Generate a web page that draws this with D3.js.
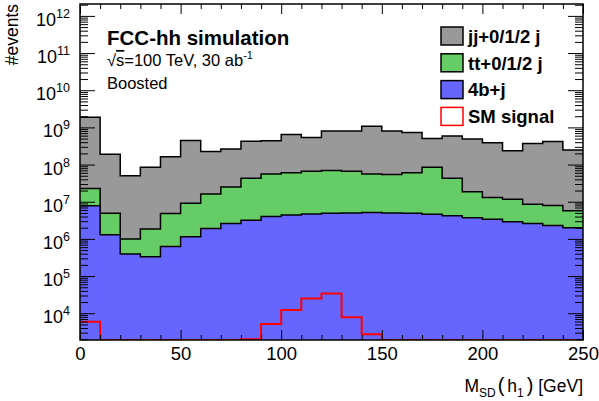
<!DOCTYPE html>
<html>
<head>
<meta charset="utf-8">
<script src="https://cdn.jsdelivr.net/npm/d3@7"></script>
<style>
body { margin: 0; background: #fff; }
text { font-family: "Liberation Sans", Arial, Helvetica, sans-serif; fill: #000; }
</style>
</head>
<body>
<svg id="chart" width="599" height="401"></svg>
<script>
// lower bin edges of M_SD(h1), 10 GeV bins
var binLow = [0, 10, 20, 30, 40, 50, 60, 70, 80, 90, 100, 110, 120, 130, 140, 150, 160, 170, 180, 190, 200, 210, 220, 230, 240];
var binHigh = 250;

// events per bin
var b4j = [7.8e6, 1.3e6, 3.9e5, 3.3e5, 6.2e5, 1.15e6, 1.9e6, 2.6e6, 3.2e6, 4.0e6, 4.4e6, 4.7e6, 4.9e6, 5.0e6, 5.1e6, 5.0e6, 4.9e6, 4.6e6, 4.2e6, 3.7e6, 3.4e6, 2.9e6, 2.6e6, 2.3e6, 2.0e6];
var ttj = [1.5e7, 3.6e6, 6.1e5, 1.53e6, 4.2e6, 7.9e6, 1.43e7, 2.25e7, 3.95e7, 5.2e7, 5.6e7, 6.1e7, 6.4e7, 6.1e7, 5.1e7, 4.9e7, 5.5e7, 8.0e7, 3.85e7, 1.49e7, 9.5e6, 8.8e6, 5.9e6, 5.6e6, 3.75e6];
var jjj = [1.84e9, 1.85e8, 4.9e7, 8.3e7, 1.57e8, 4.38e8, 2.08e8, 2.38e8, 3.84e8, 3.81e8, 5.86e8, 4.71e8, 7.25e8, 7.28e8, 1.02e9, 7.4e8, 6.64e8, 4.16e8, 5.46e8, 4.71e8, 3.76e8, 2.22e8, 3.63e8, 4.09e8, 2.39e8];
var smSignal = [5900, 0, 0, 0, 0, 0, 0, 0, 2000, 5100, 12300, 25000, 34000, 7800, 2700, 0, 0, 0, 0, 0, 0, 0, 0, 0, 0];

var xMajor = [0, 50, 100, 150, 200, 250];
var yExp = [4, 5, 6, 7, 8, 9, 10, 11, 12];

var legendItems = [
  {label: "jj+0/1/2 j", fill: "#999999", stroke: "#000"},
  {label: "tt+0/1/2 j", fill: "#66cc66", stroke: "#000"},
  {label: "4b+j", fill: "#6666ff", stroke: "#000"},
  {label: "SM signal", fill: "#fff", stroke: "#ff0000"}
];

var svg = d3.select("#chart"),
    pl = 80, pr = 583, pt = 4, pb = 340;

var yMin = Math.pow(10, 3.28), yMax = Math.pow(10, 12.32);

var x = d3.scaleLinear().domain([0, 250]).range([pl, pr]);
var y = d3.scaleLog().domain([yMin, yMax]).range([pb, pt]).clamp(true);

svg.append("clipPath").attr("id", "plotclip")
  .append("rect").attr("x", pl).attr("y", pt).attr("width", pr - pl).attr("height", pb - pt);

// stacked backgrounds
var rows = binLow.map(function(b, i) {
  return {x: b, b4: b4j[i], tt: ttj[i], jj: jjj[i]};
});
var stack = d3.stack().keys(["b4", "tt", "jj"])(rows);
var colors = {b4: "#6666ff", tt: "#66cc66", jj: "#999999"};

function stepPoints(layer) {
  var pts = layer.map(function(d) { return {x: d.data.x, v: d[1]}; });
  pts.push({x: binHigh, v: pts[pts.length - 1].v});
  return pts;
}

var area = d3.area()
    .curve(d3.curveStepAfter)
    .x(function(d) { return x(d.x); })
    .y0(pb)
    .y1(function(d) { return y(d.v); });

var line = d3.line()
    .curve(d3.curveStepAfter)
    .x(function(d) { return x(d.x); })
    .y(function(d) { return y(d.v); });

var plot = svg.append("g").attr("clip-path", "url(#plotclip)");

stack.slice().reverse().forEach(function(layer) {
  var pts = stepPoints(layer);
  plot.append("path").attr("d", area(pts)).attr("fill", colors[layer.key]);
  plot.append("path").attr("d", line(pts)).attr("fill", "none")
    .attr("stroke", "#000").attr("stroke-width", 1.5);
});

// signal (not stacked)
var sig = binLow.map(function(b, i) { return {x: b, v: Math.max(smSignal[i], yMin)}; });
sig.push({x: binHigh, v: sig[sig.length - 1].v});
plot.append("path").attr("d", line(sig)).attr("fill", "none")
  .attr("stroke", "#ff0000").attr("stroke-width", 2);

// axes
var xMinor = binLow.concat([binHigh]).filter(function(v) { return xMajor.indexOf(v) < 0; });

function noDomain(g) { g.select(".domain").remove(); }

svg.append("g").attr("transform", "translate(0," + pb + ")")
  .call(d3.axisBottom(x).tickValues(xMajor).tickSizeInner(-10).tickSizeOuter(0).tickPadding(7))
  .call(noDomain)
  .call(function(g) {
    g.selectAll("text").style("font-size", "18.5px").attr("font-family", null);
  });
svg.append("g").attr("transform", "translate(0," + pb + ")")
  .call(d3.axisBottom(x).tickValues(xMinor).tickSizeInner(-5).tickSizeOuter(0).tickFormat(""))
  .call(noDomain);
svg.append("g").attr("transform", "translate(0," + pt + ")")
  .call(d3.axisTop(x).tickValues(xMajor).tickSizeInner(-10).tickSizeOuter(0).tickFormat(""))
  .call(noDomain);
svg.append("g").attr("transform", "translate(0," + pt + ")")
  .call(d3.axisTop(x).tickValues(xMinor).tickSizeInner(-5).tickSizeOuter(0).tickFormat(""))
  .call(noDomain);

var yMajor = yExp.map(function(e) { return Math.pow(10, e); });
var yMinor = [];
[3, 4, 5, 6, 7, 8, 9, 10, 11, 12].forEach(function(e) {
  [2, 3, 4, 5, 6, 7, 8, 9].forEach(function(m) {
    var v = m * Math.pow(10, e);
    if (v > yMin && v < yMax) yMinor.push(v);
  });
});

svg.append("g").attr("transform", "translate(" + pl + ",0)")
  .call(d3.axisLeft(y).tickValues(yMajor).tickSizeInner(-15).tickSizeOuter(0).tickFormat(""))
  .call(noDomain);
svg.append("g").attr("transform", "translate(" + pl + ",0)")
  .call(d3.axisLeft(y).tickValues(yMinor).tickSizeInner(-8).tickSizeOuter(0).tickFormat(""))
  .call(noDomain);
svg.append("g").attr("transform", "translate(" + pr + ",0)")
  .call(d3.axisRight(y).tickValues(yMajor).tickSizeInner(-15).tickSizeOuter(0).tickFormat(""))
  .call(noDomain);
svg.append("g").attr("transform", "translate(" + pr + ",0)")
  .call(d3.axisRight(y).tickValues(yMinor).tickSizeInner(-8).tickSizeOuter(0).tickFormat(""))
  .call(noDomain);

svg.selectAll(".tick line").attr("stroke", "#000").attr("stroke-width", 1);

// y labels as 10^n
var ylab = svg.append("g");
yExp.forEach(function(e) {
  var t = ylab.append("text")
    .attr("x", 70).attr("y", y(Math.pow(10, e)) + 10)
    .attr("text-anchor", "end").style("font-size", "18px");
  t.append("tspan").text("10");
  t.append("tspan").attr("dy", -8).style("font-size", "12.5px").text(e);
});

// frame
svg.append("rect").attr("x", pl).attr("y", pt)
  .attr("width", pr - pl).attr("height", pb - pt)
  .attr("fill", "none").attr("stroke", "#000").attr("stroke-width", 1.5);

// axis titles
var xt = svg.append("text").attr("x", 583).attr("y", 392)
  .attr("text-anchor", "end").style("font-size", "17.5px");
xt.append("tspan").text("M");
xt.append("tspan").attr("dy", 5).style("font-size", "12px").text("SD");
xt.append("tspan").attr("dy", -5).attr("dx", 2).style("font-size", "20px").text("(");
xt.append("tspan").attr("dx", 3).text("h");
xt.append("tspan").attr("dy", 5).style("font-size", "12px").text("1");
xt.append("tspan").attr("dy", -5).attr("dx", 3).style("font-size", "20px").text(")");
xt.append("tspan").text(" [GeV]");

svg.append("text")
  .attr("transform", "translate(18,4) rotate(-90)")
  .attr("text-anchor", "end").style("font-size", "17.5px")
  .text("#events");

// labels
svg.append("text").attr("x", 107).attr("y", 45)
  .style("font-size", "20.5px").style("font-weight", "bold")
  .text("FCC-hh simulation");

var en = svg.append("text").attr("x", 107).attr("y", 66).style("font-size", "16.5px");
en.append("tspan").text("\u221A");
en.append("tspan").style("text-decoration", "overline").text("s");
en.append("tspan").text("=100 TeV, 30 ab");
en.append("tspan").attr("dy", -7).style("font-size", "11px").text("-1");

svg.append("text").attr("x", 107).attr("y", 89).style("font-size", "16.5px").text("Boosted");

// legend
var leg = svg.append("g");
legendItems.forEach(function(d, i) {
  var cy = 36 + i * 26.8;
  leg.append("rect").attr("x", 441).attr("y", cy - 9)
    .attr("width", 22).attr("height", 18)
    .attr("fill", d.fill).attr("stroke", d.stroke).attr("stroke-width", 1.5);
  leg.append("text").attr("x", 468).attr("y", cy + 6.8)
    .style("font-size", "18.5px").style("font-weight", "bold")
    .text(d.label);
});
</script>
</body>
</html>
